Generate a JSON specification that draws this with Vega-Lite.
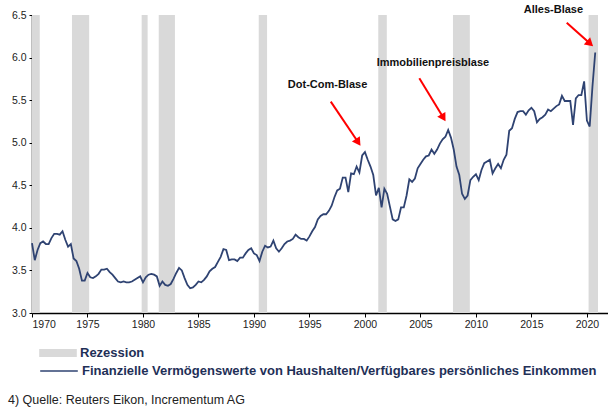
{
  "$schema": "https://vega.github.io/schema/vega-lite/v6.json",
  "width": 576,
  "height": 298,
  "autosize": {"type": "none"},
  "padding": {"left": 32, "top": 15, "right": 0, "bottom": 95},
  "background": "white",
  "title": {
    "text": "4) Quelle:  Reuters Eikon, Incrementum AG",
    "orient": "bottom",
    "anchor": "start",
    "frame": "group",
    "offset": 16,
    "dx": -24,
    "font": "Liberation Sans",
    "fontSize": 12.5,
    "fontWeight": "normal",
    "color": "#222222"
  },
  "config": {
    "view": {"stroke": null},
    "axis": {
      "grid": false,
      "domainColor": "#000000",
      "domainWidth": 1.5,
      "tickColor": "#000000",
      "tickSize": 4,
      "labelFont": "Liberation Sans",
      "labelFontSize": 10.5,
      "labelColor": "#222222",
      "title": null
    }
  },
  "datasets": {
    "rec": [
      {"start": 1970.0, "end": 1970.7},
      {"start": 1973.6, "end": 1975.15},
      {"start": 1979.88, "end": 1980.42},
      {"start": 1981.42, "end": 1982.88},
      {"start": 1990.43, "end": 1991.18},
      {"start": 2001.2, "end": 2001.97},
      {"start": 2007.93, "end": 2009.45},
      {"start": 2020.15, "end": 2021.0}
    ],
    "series": [
      {"t": 1970.0, "v": 3.82}, {"t": 1970.25, "v": 3.62}, {"t": 1970.5, "v": 3.74}, {"t": 1970.75, "v": 3.82},
      {"t": 1971.0, "v": 3.84}, {"t": 1971.25, "v": 3.81}, {"t": 1971.5, "v": 3.81}, {"t": 1971.75, "v": 3.88},
      {"t": 1972.0, "v": 3.93}, {"t": 1972.25, "v": 3.93}, {"t": 1972.5, "v": 3.92}, {"t": 1972.75, "v": 3.96},
      {"t": 1973.0, "v": 3.86}, {"t": 1973.25, "v": 3.78}, {"t": 1973.5, "v": 3.81}, {"t": 1973.75, "v": 3.64},
      {"t": 1974.0, "v": 3.61}, {"t": 1974.25, "v": 3.52}, {"t": 1974.5, "v": 3.38}, {"t": 1974.75, "v": 3.38},
      {"t": 1975.0, "v": 3.47}, {"t": 1975.25, "v": 3.42}, {"t": 1975.5, "v": 3.41}, {"t": 1975.75, "v": 3.43},
      {"t": 1976.0, "v": 3.46}, {"t": 1976.25, "v": 3.51}, {"t": 1976.5, "v": 3.51}, {"t": 1976.75, "v": 3.52},
      {"t": 1977.0, "v": 3.48}, {"t": 1977.25, "v": 3.45}, {"t": 1977.5, "v": 3.41}, {"t": 1977.75, "v": 3.37},
      {"t": 1978.0, "v": 3.36}, {"t": 1978.25, "v": 3.37}, {"t": 1978.5, "v": 3.36}, {"t": 1978.75, "v": 3.36},
      {"t": 1979.0, "v": 3.37}, {"t": 1979.25, "v": 3.39}, {"t": 1979.5, "v": 3.41}, {"t": 1979.75, "v": 3.43},
      {"t": 1980.0, "v": 3.36}, {"t": 1980.25, "v": 3.42}, {"t": 1980.5, "v": 3.45}, {"t": 1980.75, "v": 3.46},
      {"t": 1981.0, "v": 3.45}, {"t": 1981.25, "v": 3.43}, {"t": 1981.5, "v": 3.32}, {"t": 1981.75, "v": 3.37},
      {"t": 1982.0, "v": 3.33}, {"t": 1982.25, "v": 3.32}, {"t": 1982.5, "v": 3.34}, {"t": 1982.75, "v": 3.4},
      {"t": 1983.0, "v": 3.47}, {"t": 1983.25, "v": 3.53}, {"t": 1983.5, "v": 3.5}, {"t": 1983.75, "v": 3.41},
      {"t": 1984.0, "v": 3.33}, {"t": 1984.25, "v": 3.29}, {"t": 1984.5, "v": 3.3}, {"t": 1984.75, "v": 3.33},
      {"t": 1985.0, "v": 3.37}, {"t": 1985.25, "v": 3.36}, {"t": 1985.5, "v": 3.39}, {"t": 1985.75, "v": 3.43},
      {"t": 1986.0, "v": 3.49}, {"t": 1986.25, "v": 3.52}, {"t": 1986.5, "v": 3.54}, {"t": 1986.75, "v": 3.6},
      {"t": 1987.0, "v": 3.66}, {"t": 1987.25, "v": 3.75}, {"t": 1987.5, "v": 3.74}, {"t": 1987.75, "v": 3.62},
      {"t": 1988.0, "v": 3.63}, {"t": 1988.25, "v": 3.63}, {"t": 1988.5, "v": 3.61}, {"t": 1988.75, "v": 3.65},
      {"t": 1989.0, "v": 3.65}, {"t": 1989.25, "v": 3.7}, {"t": 1989.5, "v": 3.74}, {"t": 1989.75, "v": 3.76},
      {"t": 1990.0, "v": 3.7}, {"t": 1990.25, "v": 3.68}, {"t": 1990.5, "v": 3.61}, {"t": 1990.75, "v": 3.72},
      {"t": 1991.0, "v": 3.79}, {"t": 1991.25, "v": 3.77}, {"t": 1991.5, "v": 3.78}, {"t": 1991.75, "v": 3.85},
      {"t": 1992.0, "v": 3.76}, {"t": 1992.25, "v": 3.72}, {"t": 1992.5, "v": 3.76}, {"t": 1992.75, "v": 3.81},
      {"t": 1993.0, "v": 3.84}, {"t": 1993.25, "v": 3.85}, {"t": 1993.5, "v": 3.87}, {"t": 1993.75, "v": 3.92},
      {"t": 1994.0, "v": 3.89}, {"t": 1994.25, "v": 3.87}, {"t": 1994.5, "v": 3.87}, {"t": 1994.75, "v": 3.85},
      {"t": 1995.0, "v": 3.9}, {"t": 1995.25, "v": 3.96}, {"t": 1995.5, "v": 4.01}, {"t": 1995.75, "v": 4.1},
      {"t": 1996.0, "v": 4.14}, {"t": 1996.25, "v": 4.16}, {"t": 1996.5, "v": 4.16}, {"t": 1996.75, "v": 4.2},
      {"t": 1997.0, "v": 4.26}, {"t": 1997.25, "v": 4.36}, {"t": 1997.5, "v": 4.44}, {"t": 1997.75, "v": 4.46},
      {"t": 1998.0, "v": 4.59}, {"t": 1998.25, "v": 4.59}, {"t": 1998.5, "v": 4.42}, {"t": 1998.75, "v": 4.64},
      {"t": 1999.0, "v": 4.63}, {"t": 1999.25, "v": 4.72}, {"t": 1999.5, "v": 4.65}, {"t": 1999.75, "v": 4.85},
      {"t": 2000.0, "v": 4.89}, {"t": 2000.25, "v": 4.8}, {"t": 2000.5, "v": 4.72}, {"t": 2000.75, "v": 4.62},
      {"t": 2001.0, "v": 4.38}, {"t": 2001.25, "v": 4.47}, {"t": 2001.5, "v": 4.24}, {"t": 2001.75, "v": 4.46},
      {"t": 2002.0, "v": 4.4}, {"t": 2002.25, "v": 4.25}, {"t": 2002.5, "v": 4.1}, {"t": 2002.75, "v": 4.08},
      {"t": 2003.0, "v": 4.1}, {"t": 2003.25, "v": 4.24}, {"t": 2003.5, "v": 4.24}, {"t": 2003.75, "v": 4.38},
      {"t": 2004.0, "v": 4.57}, {"t": 2004.25, "v": 4.54}, {"t": 2004.5, "v": 4.58}, {"t": 2004.75, "v": 4.7},
      {"t": 2005.0, "v": 4.75}, {"t": 2005.25, "v": 4.8}, {"t": 2005.5, "v": 4.84}, {"t": 2005.75, "v": 4.85},
      {"t": 2006.0, "v": 4.92}, {"t": 2006.25, "v": 4.87}, {"t": 2006.5, "v": 4.92}, {"t": 2006.75, "v": 4.99},
      {"t": 2007.0, "v": 5.04}, {"t": 2007.25, "v": 5.07}, {"t": 2007.5, "v": 5.15}, {"t": 2007.75, "v": 5.06},
      {"t": 2008.0, "v": 4.92}, {"t": 2008.25, "v": 4.72}, {"t": 2008.5, "v": 4.62}, {"t": 2008.75, "v": 4.4},
      {"t": 2009.0, "v": 4.34}, {"t": 2009.25, "v": 4.38}, {"t": 2009.5, "v": 4.56}, {"t": 2009.75, "v": 4.6},
      {"t": 2010.0, "v": 4.63}, {"t": 2010.25, "v": 4.56}, {"t": 2010.5, "v": 4.68}, {"t": 2010.75, "v": 4.76},
      {"t": 2011.0, "v": 4.78}, {"t": 2011.25, "v": 4.8}, {"t": 2011.5, "v": 4.64}, {"t": 2011.75, "v": 4.7},
      {"t": 2012.0, "v": 4.75}, {"t": 2012.25, "v": 4.7}, {"t": 2012.5, "v": 4.8}, {"t": 2012.75, "v": 4.86},
      {"t": 2013.0, "v": 5.14}, {"t": 2013.25, "v": 5.17}, {"t": 2013.5, "v": 5.28}, {"t": 2013.75, "v": 5.36},
      {"t": 2014.0, "v": 5.37}, {"t": 2014.25, "v": 5.37}, {"t": 2014.5, "v": 5.33}, {"t": 2014.75, "v": 5.38},
      {"t": 2015.0, "v": 5.41}, {"t": 2015.25, "v": 5.37}, {"t": 2015.5, "v": 5.24}, {"t": 2015.75, "v": 5.28},
      {"t": 2016.0, "v": 5.3}, {"t": 2016.25, "v": 5.33}, {"t": 2016.5, "v": 5.39}, {"t": 2016.75, "v": 5.37},
      {"t": 2017.0, "v": 5.4}, {"t": 2017.25, "v": 5.43}, {"t": 2017.5, "v": 5.45}, {"t": 2017.75, "v": 5.55},
      {"t": 2018.0, "v": 5.49}, {"t": 2018.25, "v": 5.49}, {"t": 2018.5, "v": 5.49}, {"t": 2018.75, "v": 5.21},
      {"t": 2019.0, "v": 5.52}, {"t": 2019.25, "v": 5.56}, {"t": 2019.5, "v": 5.56}, {"t": 2019.75, "v": 5.72},
      {"t": 2020.0, "v": 5.26}, {"t": 2020.25, "v": 5.19}, {"t": 2020.5, "v": 5.66}, {"t": 2020.75, "v": 6.06}
    ],
    "ann": [
      {"label": "Dot-Com-Blase", "t": 1996.63, "v": 5.678},
      {"label": "Immobilienpreisblase", "t": 2006.13, "v": 5.933},
      {"label": "Alles-Blase", "t": 2016.98, "v": 6.559}
    ],
    "arrows": [
      {"name": "dot", "t": 1996.92, "v": 5.482, "t2": 1999.39, "v2": 5.005},
      {"name": "immo", "t": 2004.9, "v": 5.757, "t2": 2007.07, "v2": 5.292},
      {"name": "alles", "t": 2018.18, "v": 6.41, "t2": 2020.28, "v2": 6.164}
    ]
  },
  "layer": [
    {
      "data": {"name": "rec"},
      "mark": {"type": "rect", "stroke": null},
      "encoding": {
        "x": {
          "field": "start", "type": "quantitative",
          "scale": {"domain": [1970, 2021.9], "nice": false, "zero": false},
          "axis": {"values": [1970, 1975, 1980, 1985, 1990, 1995, 2000, 2005, 2010, 2015, 2020], "format": "d", "labelPadding": 2}
        },
        "x2": {"field": "end"},
        "fill": {
          "datum": "Rezession",
          "scale": {"domain": ["Rezession"], "range": ["#d9d9d9"]},
          "legend": {
            "orient": "none", "legendX": 7, "legendY": 319, "title": null, "padding": 0,
            "symbolType": "M-1,-0.21H1V0.21H-1Z", "symbolSize": 1414, "symbolStrokeWidth": 0,
            "labelFont": "Liberation Sans", "labelFontSize": 13, "labelFontWeight": "bold",
            "labelColor": "#1f3057", "labelOffset": 3, "labelLimit": 0
          }
        }
      }
    },
    {
      "data": {"name": "series"},
      "mark": {"type": "line", "strokeWidth": 1.8},
      "encoding": {
        "x": {"field": "t", "type": "quantitative"},
        "y": {
          "field": "v", "type": "quantitative",
          "scale": {"domain": [3, 6.5], "nice": false, "zero": false},
          "axis": {"values": [3, 3.5, 4, 4.5, 5, 5.5, 6, 6.5], "format": ".1f", "tickSize": 3, "labelPadding": 3}
        },
        "stroke": {
          "datum": "Finanzielle Vermögenswerte von Haushalten/Verfügbares persönliches Einkommen",
          "scale": {"domain": ["Finanzielle Vermögenswerte von Haushalten/Verfügbares persönliches Einkommen"], "range": ["#2f4372"]},
          "legend": {
            "orient": "none", "legendX": 7, "legendY": 336, "title": null, "padding": 0,
            "symbolType": "stroke", "symbolSize": 1414, "symbolStrokeWidth": 1.5,
            "labelFont": "Liberation Sans", "labelFontSize": 13, "labelFontWeight": "bold",
            "labelColor": "#1f3057", "labelOffset": 3, "labelLimit": 0
          }
        }
      }
    },
    {
      "data": {"name": "arrows"},
      "mark": {"type": "rule", "color": "#ff0000", "strokeWidth": 2},
      "encoding": {
        "x": {"field": "t", "type": "quantitative"},
        "y": {"field": "v", "type": "quantitative"},
        "x2": {"field": "t2"},
        "y2": {"field": "v2"}
      }
    },
    {
      "data": {"name": "arrows"},
      "transform": [{"filter": "datum.name === 'dot'"}],
      "mark": {"type": "point", "shape": "triangle-up", "filled": true, "color": "#ff0000", "size": 90, "angle": 146, "opacity": 1},
      "encoding": {
        "x": {"field": "t2", "type": "quantitative"},
        "y": {"field": "v2", "type": "quantitative"}
      }
    },
    {
      "data": {"name": "arrows"},
      "transform": [{"filter": "datum.name === 'immo'"}],
      "mark": {"type": "point", "shape": "triangle-up", "filled": true, "color": "#ff0000", "size": 90, "angle": 149, "opacity": 1},
      "encoding": {
        "x": {"field": "t2", "type": "quantitative"},
        "y": {"field": "v2", "type": "quantitative"}
      }
    },
    {
      "data": {"name": "arrows"},
      "transform": [{"filter": "datum.name === 'alles'"}],
      "mark": {"type": "point", "shape": "triangle-up", "filled": true, "color": "#ff0000", "size": 90, "angle": 132, "opacity": 1},
      "encoding": {
        "x": {"field": "t2", "type": "quantitative"},
        "y": {"field": "v2", "type": "quantitative"}
      }
    },
    {
      "data": {"name": "ann"},
      "mark": {"type": "text", "font": "Liberation Sans", "fontSize": 11, "fontWeight": "bold", "color": "#111111", "baseline": "middle", "align": "center"},
      "encoding": {
        "x": {"field": "t", "type": "quantitative"},
        "y": {"field": "v", "type": "quantitative"},
        "text": {"field": "label"}
      }
    }
  ]
}
